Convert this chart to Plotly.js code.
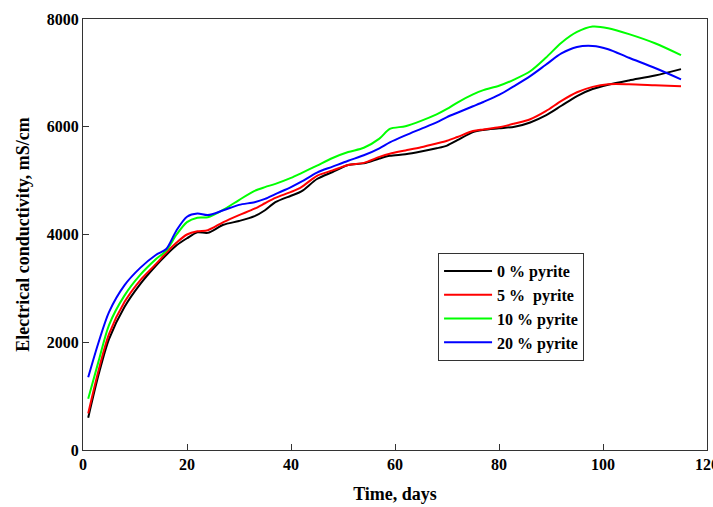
<!DOCTYPE html>
<html>
<head>
<meta charset="utf-8">
<script src="https://cdn.plot.ly/plotly-3.0.1.min.js"></script>
<style>html,body{margin:0;padding:0;background:#fff;}#chart{width:713px;height:507px;}</style>
</head>
<body>
<div id="chart"></div>
<script>
const days = [1, 3, 5, 8, 11, 14, 16, 18, 20, 22, 24, 27, 30, 33, 35, 37, 40, 42, 45, 48, 51, 54, 57, 59, 62, 65, 68, 70, 72, 75, 77, 80, 83, 86, 89, 92, 95, 98, 101, 105, 110, 115];
const pyrite0 = [600, 1400, 2060, 2660, 3080, 3420, 3620, 3800, 3930, 4040, 4030, 4180, 4250, 4340, 4450, 4600, 4720, 4800, 5030, 5160, 5290, 5320, 5410, 5460, 5490, 5540, 5600, 5650, 5750, 5900, 5940, 5970, 6000, 6080, 6210, 6390, 6570, 6700, 6780, 6860, 6950, 7070];
const pyrite5 = [680, 1480, 2150, 2750, 3150, 3450, 3660, 3850, 4000, 4060, 4080, 4230, 4360, 4480, 4580, 4680, 4790, 4880, 5090, 5190, 5290, 5330, 5440, 5500, 5560, 5620, 5690, 5740, 5810, 5920, 5950, 5990, 6060, 6140, 6290, 6480, 6640, 6740, 6790, 6790, 6770, 6750];
const pyrite10 = [950, 1650, 2320, 2870, 3250, 3540, 3700, 4000, 4230, 4310, 4320, 4460, 4640, 4810, 4880, 4940, 5050, 5140, 5280, 5420, 5530, 5610, 5780, 5960, 6010, 6110, 6230, 6330, 6450, 6600, 6680, 6760, 6880, 7030, 7280, 7560, 7760, 7860, 7830, 7720, 7550, 7330];
const pyrite20 = [1350, 2000, 2560, 3060, 3380, 3620, 3730, 4080, 4330, 4390, 4360, 4450, 4550, 4600, 4660, 4750, 4880, 4980, 5150, 5260, 5370, 5470, 5600, 5710, 5840, 5960, 6080, 6180, 6260, 6380, 6460, 6590, 6760, 6940, 7150, 7360, 7480, 7500, 7440, 7280, 7090, 6880];
const seriesNames = ["0 % pyrite", "5 %\u00a0\u00a0pyrite", "10 % pyrite", "20 % pyrite"];
const seriesColors = ["#000000", "#ff0000", "#00ff00", "#0000ff"];
const seriesValues = [pyrite0, pyrite5, pyrite10, pyrite20];

const traces = seriesValues.map((vals, i) => ({
  x: days, y: vals, name: seriesNames[i], type: 'scatter', mode: 'lines',
  line: {color: seriesColors[i], width: 2, shape: 'spline', smoothing: 0.8}
}));

const font = {family: '"Liberation Serif", "Times New Roman", serif', color: '#000'};
const layout = {
  width: 713, height: 507,
  margin: {l: 83, r: 6, t: 19, b: 57},
  paper_bgcolor: '#fff', plot_bgcolor: '#fff',
  font: font,
  showlegend: true,
  legend: {
    x: 0.569, y: 0.457, xanchor: 'left', yanchor: 'top',
    bgcolor: '#fff', bordercolor: '#333', borderwidth: 1,
    font: {family: font.family, size: 16, weight: 'bold', color: '#000'},
    tracegroupgap: 0, itemwidth: 48
  },
  xaxis: {
    range: [0, 120], tickvals: [0, 20, 40, 60, 80, 100, 120],
    ticks: 'inside', ticklen: 6, tickcolor: '#333',
    showline: true, linecolor: '#333', linewidth: 1, mirror: true,
    showgrid: false, zeroline: false, ticklabeloverflow: 'allow',
    tickfont: {family: font.family, size: 16, weight: 'bold', color: '#000'},
    title: {text: 'Time, days', font: {family: font.family, size: 18, weight: 'bold', color: '#000'}, standoff: 15}
  },
  yaxis: {
    range: [0, 8000], tickvals: [0, 2000, 4000, 6000, 8000],
    ticks: 'inside', ticklen: 6, tickcolor: '#333',
    showline: true, linecolor: '#333', linewidth: 1, mirror: true,
    showgrid: false, zeroline: false,
    tickfont: {family: font.family, size: 16, weight: 'bold', color: '#000'},
    title: {text: 'Electrical conductivity, mS/cm', font: {family: font.family, size: 18, weight: 'bold', color: '#000'}, standoff: 12}
  }
};
Plotly.newPlot('chart', traces, layout, {displayModeBar: false, staticPlot: true});
</script>
</body>
</html>
